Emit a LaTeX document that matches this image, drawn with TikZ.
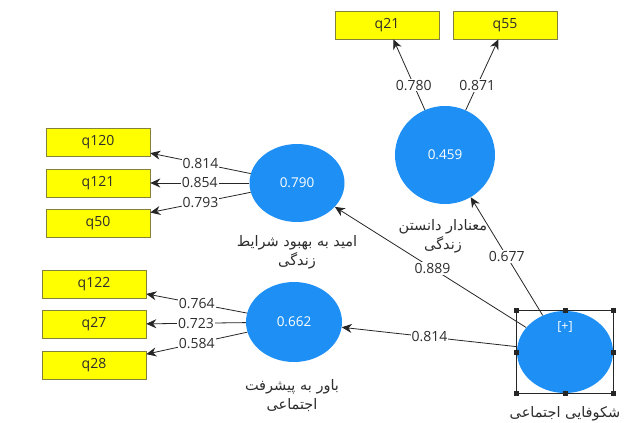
\documentclass[tikz,border=0pt]{standalone}
\usepackage{fontspec}
\setmainfont{Open Sans}
\newfontfamily\fafont[Script=Arabic]{DejaVu Sans}
\TeXXeTstate=1
\usetikzlibrary{shapes.geometric,arrows.meta}
\definecolor{lvblue}{RGB}{30,144,245}
\definecolor{boxyellow}{RGB}{255,255,0}
\definecolor{boxborder}{RGB}{130,130,60}
\definecolor{txtgray}{RGB}{45,45,45}
\begin{document}
\begin{tikzpicture}[x=1pt,y=-1pt,
  lv/.style={ellipse,fill=lvblue,draw=none,inner sep=0pt,text=white,font=\fontsize{13.5}{15}\selectfont},
  ind/.style={rectangle,fill=boxyellow,draw=boxborder,line width=0.6pt,minimum width=104pt,minimum height=28pt,inner sep=0pt,text=txtgray,font=\fontsize{14}{16}\selectfont},
  arr/.style={draw=black!85,line width=0.8pt,-{Stealth[length=10pt,width=9pt]}},
  lbl/.style={fill=white,inner sep=1pt,text=txtgray,font=\fontsize{14}{16}\selectfont},
  falbl/.style={align=center,text=txtgray,font=\fafont\fontsize{14.5}{19}\selectfont},
  handle/.style={fill=black!85,minimum size=5pt,inner sep=0pt,draw=none}]
\useasboundingbox (0,0) rectangle (633,423);
\fill[white] (0,0) rectangle (633,423);

% latent variables
\node[lv,minimum width=100pt,minimum height=98pt] (e459) at (445,155) {0.459};
\node[lv,minimum width=95pt,minimum height=78pt] (e790) at (297,183) {0.790};
\node[lv,minimum width=96pt,minimum height=80pt] (e662) at (294,322) {0.662};
\node[lv,minimum width=96pt,minimum height=82pt] (shk) at (565,352) {};
\node[text=white,font=\fontsize{12.5}{14}\selectfont] (plus) at (565,327) {[+]};

% indicators
\node[ind] (q21) at (387,25) {q21};
\node[ind] (q55) at (505,25) {q55};
\node[ind] (q120) at (98,142.5) {q120};
\node[ind] (q121) at (98,183) {q121};
\node[ind] (q50) at (98,223) {q50};
\node[ind] (q122) at (94,284) {q122};
\node[ind] (q27) at (94,324.5) {q27};
\node[ind] (q28) at (94,365.5) {q28};

% outer loadings
\draw[arr] (e459) -- node[lbl,pos=0.35]{0.780} (q21);
\draw[arr] (e459) -- node[lbl,pos=0.35]{0.871} (q55);
\draw[arr] (e790) -- node[lbl]{0.814} (q120);
\draw[arr] (e790) -- node[lbl]{0.854} (q121);
\draw[arr] (e790) -- node[lbl]{0.793} (q50);
\draw[arr] (e662) -- node[lbl]{0.764} (q122);
\draw[arr] (e662) -- node[lbl]{0.723} (q27);
\draw[arr] (e662) -- node[lbl]{0.584} (q28);

% path coefficients
\draw[arr] (shk) -- node[lbl,pos=0.49]{0.889} (e790);
\draw[arr] (shk) -- node[lbl,pos=0.5]{0.677} (e459);
\draw[arr] (shk) -- node[lbl,pos=0.5]{0.814} (e662);

% selection frame
\draw[black!85,line width=0.7pt] (shk.west |- shk.north) rectangle (shk.east |- shk.south);
\foreach \a/\b in {west/north,north/north,east/north,west/south,north/south,east/south}{
  \node[handle] at (shk.\a |- shk.\b) {};}
\node[handle] at (shk.west) {};
\node[handle] at (shk.east) {};

% construct names
\node[falbl] (n459) at (443,236) {\beginR معنادار دانستن\endR\\\beginR زندگی\endR};
\node[falbl] (n790) at (297,252) {\beginR امید به بهبود شرایط\endR\\\beginR زندگی\endR};
\node[falbl] (n662) at (292,396) {\beginR باور به پیشرفت\endR\\\beginR اجتماعی\endR};
\node[falbl] (nshk) at (565,414) {\beginR شکوفایی اجتماعی\endR};
\end{tikzpicture}
\end{document}
